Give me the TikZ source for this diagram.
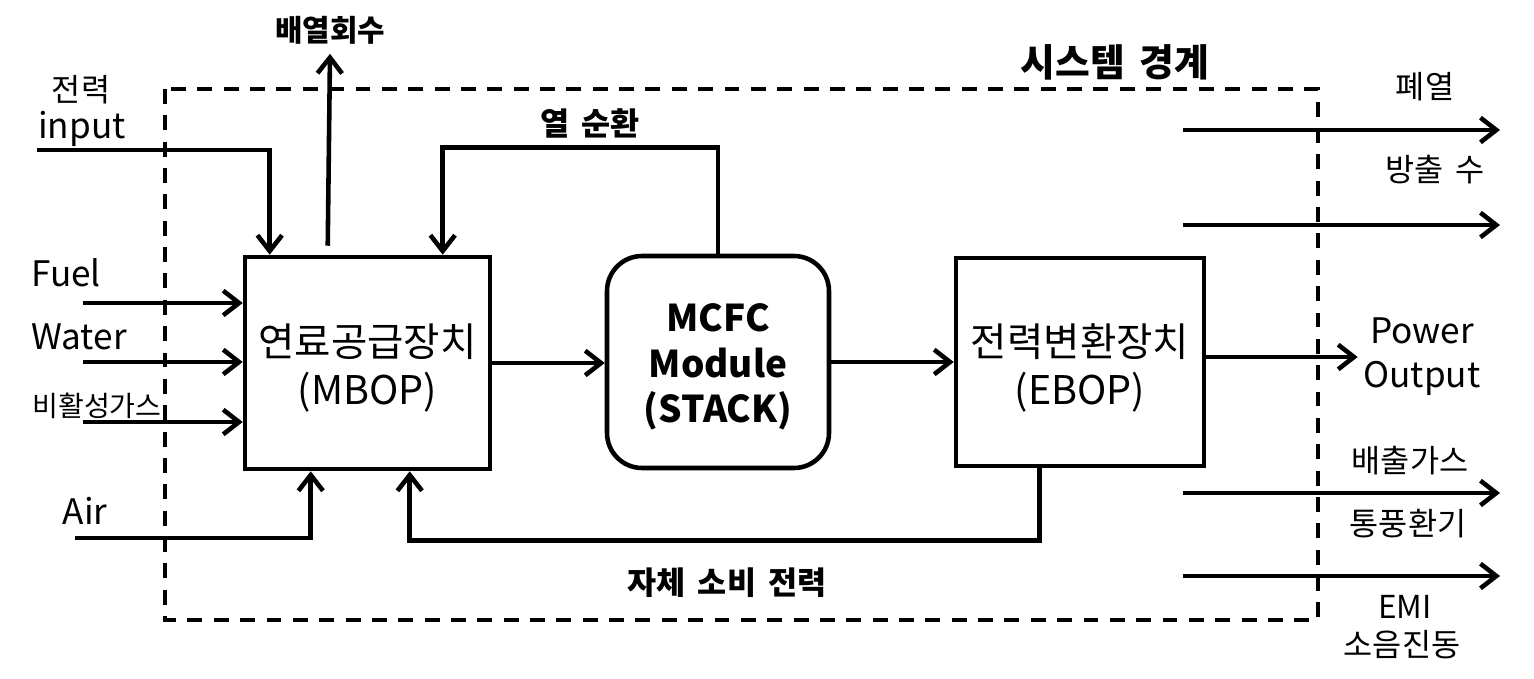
\documentclass[tikz,border=0pt]{standalone}
\usepackage{fontspec}
\setmainfont{Noto Sans CJK KR}[WordSpace=1.7]
\usetikzlibrary{arrows.meta,positioning,calc}

\begin{document}
\begin{tikzpicture}[
x=0.02cm, y=-0.02cm,
line width=2.6pt,
>={Straight Barb[length=9pt,width=14pt,line width=2.6pt]},
block/.style={draw, inner sep=0pt},
blocktxt/.style={align=center, inner sep=0pt, font=\fontsize{22.5}{27}\selectfont},
lbl/.style={font=\fontsize{20}{25}\selectfont, align=center, inner sep=2pt},
klbl/.style={font=\fontsize{18}{22}\selectfont, align=center, inner sep=2pt},
blbl/.style={font=\bfseries\fontsize{18}{22}\selectfont, inner sep=2pt},
border/.style={line width=2pt, dash pattern=on 8.5pt off 6.5pt}
]
\useasboundingbox (0,0) rectangle (1534,679);

% system boundary
\draw[border] (165,89) rectangle (1318,620);
\node[font=\bfseries\fontsize{21.5}{26}\selectfont] (sys) at (1115,62) {시스템 경계};

% main blocks
\node[block, minimum width=4.9cm, minimum height=4.24cm] (mbop) at (367.5,363) {};
\node[blocktxt] (mboptxt) at (367.5,368) {연료공급장치\\(MBOP)};
\node[block, rounded corners=0.7cm, minimum width=4.44cm, minimum height=4.24cm] (stack) at (718,362) {};
\node[font=\bfseries\fontsize{21}{26}\selectfont, align=center] (stacktxt) at (718,367) {MCFC\\Module\\(STACK)};
\node[block, minimum width=4.96cm, minimum height=4.16cm] (ebop) at (1080,362) {};
\node[blocktxt] (eboptxt) at (1080,368) {전력변환장치\\(EBOP)};
\node[lbl] (pout) at (1422,357) {Power\\Output};

\draw[->] (mbop.east) -- (mbop.east -| stack.west);
\draw[->] (stack.east) -- (stack.east -| ebop.west);
\draw[->] (pout.west -| ebop.east) -- (pout.west);

% inputs on the left
\node[lbl] (fuel) at (66,273) {Fuel};
\node[lbl] (water) at (79,337) {Water};
\node[font=\fontsize{16}{19}\selectfont, inner sep=2pt] (inert) at (97,406) {비활성가스};
\node[lbl] (air) at (85,511) {Air};
\foreach \y/\n in {303/infuel,362/inwater,422/ininert}
{
	\coordinate (\n) at (83,\y);
	\draw[->] (\n) -- (\n -| mbop.west);
}
\node[klbl] (elec) at (81,90) {전력};
\node[lbl] (input) at (82,129) {input};
\coordinate (inelec) at (37,150);
\draw[->] (inelec) -| ([xshift=0.54cm]mbop.north west);
\coordinate (inair) at (75,538);
\draw[->] (inair) -| ([xshift=1.36cm]mbop.south west);

% heat recovery and heat loop
\node[blbl, font=\bfseries\fontsize{17}{20}\selectfont] (recov) at (330,30) {배열회수};
\draw[->] ([xshift=1.7cm,yshift=0.18cm]mbop.north west) -- ([yshift=-0.08cm]recov.south);
\node[blbl] (loop) at (590,123) {열 순환};
\draw[->] (stack.north) -- ++(0,2.12cm) -| ([xshift=4cm]mbop.north west);

% own consumption
\node[blbl] (self) at (727,583) {자체 소비 전력};
\draw[->] ([xshift=1.72cm]ebop.south west) -- ++(0,-1.44cm) -| ([xshift=3.34cm]mbop.south west);

% outputs on the right
\foreach \y/\n in {130/outheat,225/outdrain,493/outgas,576/outnoise}
{
	\coordinate (\n) at (1183,\y);
	\draw[->] (\n) -- (1500,\y);
}
\node[klbl] (waste) at (1425,87) {폐열};
\node[klbl] (drain) at (1435,170) {방출 수};
\node[klbl] (gas) at (1410,461) {배출가스};
\node[klbl] (vent) at (1408,524) {통풍환기};
\node[klbl] (emi) at (1405,607) {EMI};
\node[klbl] (noise) at (1402,645) {소음진동};
\end{tikzpicture}
\end{document}
